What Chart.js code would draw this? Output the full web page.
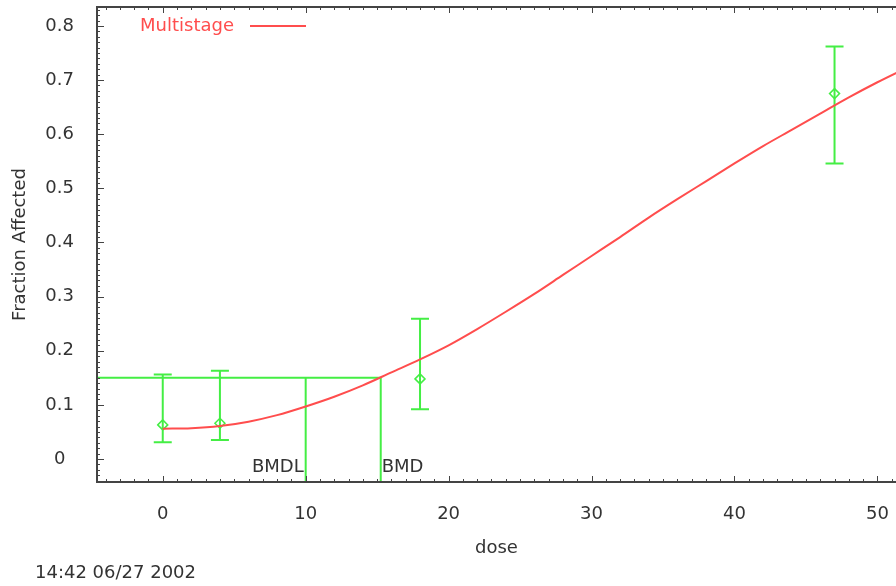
<!DOCTYPE html>
<html>
<head>
<meta charset="utf-8">
<script src="https://cdn.jsdelivr.net/npm/chart.js@4.4.0/dist/chart.umd.min.js"></script>
<style>
	body { margin: 0; background: #fff; }
</style>
</head>
<body>
<canvas id="bmd-chart" width="896" height="586"></canvas>
<script>
// fitted multistage curve
var curveDose = [0, 2, 4, 6, 8, 10, 12, 14, 16, 18, 20, 22, 24, 26, 28, 30, 32, 34, 36, 38, 40, 42, 44, 46, 48, 50, 52];
var curveFrac = [0.056, 0.057, 0.061, 0.069, 0.081, 0.097, 0.115, 0.136, 0.160, 0.184, 0.210, 0.240, 0.272, 0.305, 0.340, 0.375, 0.410, 0.446, 0.480, 0.513, 0.546, 0.578, 0.608, 0.638, 0.668, 0.696, 0.722];

// observed groups with confidence limits
var obsDose = [0, 4, 18, 47];
var obsFrac = [0.063, 0.066, 0.148, 0.675];
var obsLower = [0.031, 0.035, 0.092, 0.546];
var obsUpper = [0.156, 0.163, 0.259, 0.762];

// benchmark response and doses
var bmrLevel = 0.15;
var bmdlDose = 10.0;
var bmdDose = 15.25;

var doseRange = [-4.6, 51.3];
var fracRange = [-0.0425, 0.835];

var green = '#44ee44';
var red = '#ff4d4d';
var textColor = '#333';
var fontFamily = '"DejaVu Sans", sans-serif';

function points(xs, ys) {
	return xs.map(function (x, i) { return {x: x, y: ys[i]}; });
}

var extrasPlugin = {
	id: 'extras',
	beforeDatasetsDraw: function (chart) {
		var ctx = chart.ctx, xs = chart.scales.x, ys = chart.scales.y;
		ctx.save();
		ctx.strokeStyle = green;
		ctx.lineWidth = 2;
		ctx.beginPath();
		obsDose.forEach(function (d, i) {
			var px = xs.getPixelForValue(d);
			var top = ys.getPixelForValue(obsUpper[i]);
			var bot = ys.getPixelForValue(obsLower[i]);
			ctx.moveTo(px, top); ctx.lineTo(px, bot);
			ctx.moveTo(px - 9, top); ctx.lineTo(px + 9, top);
			ctx.moveTo(px - 9, bot); ctx.lineTo(px + 9, bot);
		});
		ctx.stroke();
		ctx.restore();
	},
	afterDraw: function (chart) {
		var ctx = chart.ctx, a = chart.chartArea, xs = chart.scales.x, ys = chart.scales.y;
		ctx.save();
		// frame
		ctx.strokeStyle = '#444';
		ctx.lineWidth = 2;
		ctx.beginPath();
		ctx.moveTo(a.right, a.top); ctx.lineTo(a.left, a.top);
		ctx.lineTo(a.left, a.bottom); ctx.lineTo(a.right, a.bottom);
		ctx.stroke();
		// inner ticks
		ctx.lineWidth = 1;
		ctx.beginPath();
		for (var d = -4; d <= 51; d++) {
			var px = Math.round(xs.getPixelForValue(d)) + 0.5;
			var len = d % 10 === 0 ? 6 : 3;
			ctx.moveTo(px, a.bottom); ctx.lineTo(px, a.bottom - len);
			ctx.moveTo(px, a.top); ctx.lineTo(px, a.top + len);
		}
		for (var i = -4; i <= 83; i++) {
			var py = Math.round(ys.getPixelForValue(i / 100)) + 0.5;
			var l = i % 10 === 0 ? 7 : 3;
			ctx.moveTo(a.left, py); ctx.lineTo(a.left + l, py);
		}
		ctx.stroke();

		ctx.font = '18px ' + fontFamily;
		ctx.textBaseline = 'middle';
		// BMD labels
		ctx.fillStyle = textColor;
		ctx.textAlign = 'right';
		ctx.fillText('BMDL', xs.getPixelForValue(bmdlDose) - 2, 467);
		ctx.textAlign = 'left';
		ctx.fillText('BMD', xs.getPixelForValue(bmdDose) + 1, 467);
		// legend
		ctx.fillStyle = red;
		ctx.fillText('Multistage', 140, 26);
		ctx.strokeStyle = red;
		ctx.lineWidth = 2;
		ctx.beginPath();
		ctx.moveTo(250, 26); ctx.lineTo(306, 26);
		ctx.stroke();
		// date stamp
		ctx.fillStyle = textColor;
		ctx.fillText('14:42 06/27 2002', 35, 573);
		ctx.restore();
	}
};

new Chart('bmd-chart', {
	type: 'scatter',
	data: {
		datasets: [
			{
				label: 'Multistage',
				type: 'line',
				data: points(curveDose, curveFrac),
				borderColor: red,
				borderWidth: 2,
				pointRadius: 0,
				cubicInterpolationMode: 'monotone',
				fill: false
			},
			{
				label: 'BMR',
				type: 'line',
				data: [
					{x: doseRange[0], y: bmrLevel},
					{x: bmdDose, y: bmrLevel},
					{x: bmdDose, y: fracRange[0]}
				],
				borderColor: green,
				borderWidth: 2,
				pointRadius: 0,
				tension: 0,
				fill: false
			},
			{
				label: 'BMDL',
				type: 'line',
				data: [
					{x: bmdlDose, y: bmrLevel},
					{x: bmdlDose, y: fracRange[0]}
				],
				borderColor: green,
				borderWidth: 2,
				pointRadius: 0,
				fill: false
			},
			{
				label: 'Observed',
				data: points(obsDose, obsFrac),
				pointStyle: 'rectRot',
				pointRadius: 5,
				borderColor: green,
				borderWidth: 1.5,
				backgroundColor: 'rgba(255,255,255,0)'
			}
		]
	},
	options: {
		responsive: false,
		animation: false,
		layout: {autoPadding: false, padding: {top: 7, left: 0, right: 0, bottom: 0}},
		plugins: {
			legend: {display: false},
			tooltip: {enabled: false}
		},
		scales: {
			x: {
				type: 'linear',
				min: doseRange[0],
				max: doseRange[1],
				grid: {display: false},
				border: {display: false},
				ticks: {
					stepSize: 10,
					includeBounds: false,
					padding: 14,
					color: textColor,
					maxRotation: 0,
					font: {family: fontFamily, size: 18}
				},
				title: {
					display: true,
					text: 'dose',
					color: textColor,
					padding: {top: 0, bottom: 27},
					font: {family: fontFamily, size: 18}
				},
				afterFit: function (scale) {
					scale.height = 104;
					scale.paddingLeft = 0;
					scale.paddingRight = 0;
				}
			},
			y: {
				type: 'linear',
				min: fracRange[0],
				max: fracRange[1],
				grid: {display: false},
				border: {display: false},
				ticks: {
					stepSize: 0.1,
					includeBounds: false,
					padding: 15,
					crossAlign: 'center',
					color: textColor,
					font: {family: fontFamily, size: 18},
					callback: function (v) { return Math.round(v * 10) / 10; }
				},
				title: {
					display: true,
					text: 'Fraction Affected',
					color: textColor,
					padding: {top: 10, bottom: 0},
					font: {family: fontFamily, size: 18}
				},
				afterFit: function (scale) {
					scale.width = 97;
					scale.paddingTop = 0;
					scale.paddingBottom = 0;
				}
			}
		}
	},
	plugins: [extrasPlugin]
});
</script>
</body>
</html>
